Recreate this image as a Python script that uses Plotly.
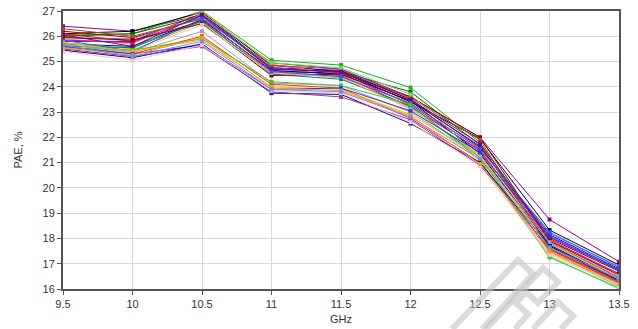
import plotly.graph_objects as go

freq_ghz = [9.5, 10, 10.5, 11, 11.5, 12, 12.5, 13, 13.5]
x_labels = ["9.5", "10", "10.5", "11", "11.5", "12", "12.5", "13", "13.5"]

# PAE (%) per measured device, one list per sample
pae_series = [
    [26.40, 26.20, 26.85, 24.95, 24.70, 23.60, 22.00, 18.75, 17.08],
    [26.05, 26.10, 27.00, 25.05, 24.86, 23.97, 21.80, 17.90, 16.60],
    [26.10, 26.20, 26.95, 24.85, 24.60, 23.40, 21.95, 18.33, 16.95],
    [26.20, 25.95, 26.70, 24.60, 24.55, 23.60, 22.00, 17.90, 16.55],
    [25.80, 25.80, 26.90, 24.75, 24.65, 23.50, 21.60, 18.15, 16.80],
    [25.90, 25.70, 27.00, 24.90, 24.50, 23.30, 21.40, 17.80, 16.40],
    [26.00, 26.10, 26.80, 24.70, 24.60, 23.80, 21.70, 17.70, 16.30],
    [26.10, 25.80, 26.60, 24.55, 24.45, 23.20, 21.50, 17.85, 16.45],
    [25.95, 25.90, 26.75, 24.80, 24.40, 23.35, 21.55, 18.20, 16.90],
    [25.70, 25.60, 26.65, 24.65, 24.50, 23.45, 21.35, 17.75, 16.35],
    [25.85, 25.75, 26.80, 24.75, 24.55, 23.30, 21.45, 17.95, 16.60],
    [26.30, 26.00, 26.70, 24.85, 24.70, 23.55, 21.90, 17.60, 16.20],
    [25.75, 25.50, 26.90, 24.95, 24.75, 23.70, 21.20, 17.30, 16.00],
    [25.65, 25.45, 26.55, 24.60, 24.35, 23.15, 21.30, 17.65, 16.25],
    [25.60, 25.55, 26.60, 24.50, 24.30, 23.25, 21.20, 17.50, 16.10],
    [25.95, 25.85, 26.50, 24.45, 24.50, 23.45, 21.65, 18.00, 16.70],
    [26.05, 25.60, 26.85, 24.70, 24.60, 23.50, 21.75, 18.05, 16.75],
    [25.50, 25.40, 26.45, 24.55, 24.40, 23.10, 21.05, 17.40, 16.15],
    [25.85, 25.40, 26.70, 24.60, 24.40, 23.35, 21.55, 18.25, 16.85],
    [25.70, 25.35, 26.20, 24.15, 24.05, 23.00, 21.20, 17.85, 16.50],
    [25.60, 25.30, 26.00, 24.10, 23.95, 22.75, 21.00, 17.55, 16.25],
    [25.55, 25.45, 25.90, 24.20, 24.05, 23.30, 21.10, 17.25, 16.05],
    [25.75, 25.40, 25.85, 24.00, 23.90, 22.90, 21.25, 17.45, 16.20],
    [25.60, 25.30, 25.65, 23.90, 23.95, 23.05, 21.40, 18.10, 16.75],
    [25.45, 25.15, 25.70, 23.75, 23.70, 22.55, 21.00, 17.70, 16.30],
    [25.50, 25.20, 25.60, 23.80, 23.60, 22.70, 20.90, 17.60, 16.30],
    [25.40, 25.05, 25.65, 23.85, 23.75, 22.60, 20.85, 17.35, 16.10],
    [25.55, 25.25, 25.95, 23.95, 23.85, 22.85, 20.95, 17.50, 16.20],
    [25.65, 25.20, 25.80, 23.90, 23.80, 22.80, 21.15, 17.65, 16.40],
]

series_colors = [
    "#990099", "#22AA22", "#000000", "#990000", "#0000FF", "#FFA500",
    "#006600", "#FF0000", "#808080", "#000080", "#CC00CC", "#A0522D",
    "#66DD66", "#C8B400", "#008080", "#800000", "#800080", "#FFB6C1",
    "#3355FF", "#A0A0A0", "#FF2020", "#33CC33", "#FFB000", "#1E3CFF",
    "#00008B", "#9933AA", "#FFC0CB", "#FF9900", "#6495ED",
]

W, H = 638, 329
L, R, T, B = 63, 19, 11, 40
pw, ph = W - L - R, H - T - B

fig = go.Figure()
for vals, col in zip(pae_series, series_colors):
    fig.add_trace(go.Scatter(
        x=freq_ghz, y=vals, mode="lines+markers",
        line=dict(color=col, width=1),
        marker=dict(symbol="square", size=4, color=col),
        showlegend=False, hoverinfo="skip",
    ))

# faint logo mark in the lower right corner, outlined in pixel units
logo_paths = [
    "M 452 329 L 518 260 L 533 274 L 482 329",
    "M 486 329 L 543 268 L 558 282 L 538 303 L 526 292 L 516 303 L 528 314 L 515 329",
    "M 533 329 L 558 302 L 573 316 L 561 329",
]


def px_to_paper(path):
    out = []
    toks = path.split()
    i = 0
    while i < len(toks):
        t = toks[i]
        x = (float(toks[i + 1]) - L) / pw
        y = (H - B - float(toks[i + 2])) / ph
        out.append(f"{t} {x:.4f} {y:.4f}")
        i += 3
    return " ".join(out)


for p in logo_paths:
    fig.add_shape(type="path", path=px_to_paper(p), xref="paper", yref="paper",
                  line=dict(color="rgba(195,195,195,0.6)", width=6),
                  fillcolor="rgba(0,0,0,0)", layer="above")

axis_font = dict(family="Liberation Sans, Arial, sans-serif", size=11, color="#333333")

fig.update_layout(
    width=W, height=H,
    margin=dict(l=L, r=R, t=T, b=B, autoexpand=False),
    paper_bgcolor="white", plot_bgcolor="white",
    font=axis_font,
    xaxis=dict(
        range=[9.5, 13.5], tickvals=freq_ghz, ticktext=x_labels,
        showgrid=True, gridcolor="#D9D9D9", gridwidth=1,
        showline=True, linecolor="#555555", linewidth=2, mirror=True,
        ticks="outside", ticklen=4, tickcolor="#555555",
        zeroline=False, automargin=False,
        title=dict(text="GHz", font=axis_font, standoff=6),
    ),
    yaxis=dict(
        range=[16, 27], dtick=1,
        showgrid=True, gridcolor="#D9D9D9", gridwidth=1,
        showline=True, linecolor="#555555", linewidth=2, mirror=True,
        ticks="outside", ticklen=4, tickcolor="#555555",
        zeroline=False, automargin=False,
        title=dict(text="PAE, %", font=axis_font, standoff=18),
    ),
)

fig.write_html("out.html")
